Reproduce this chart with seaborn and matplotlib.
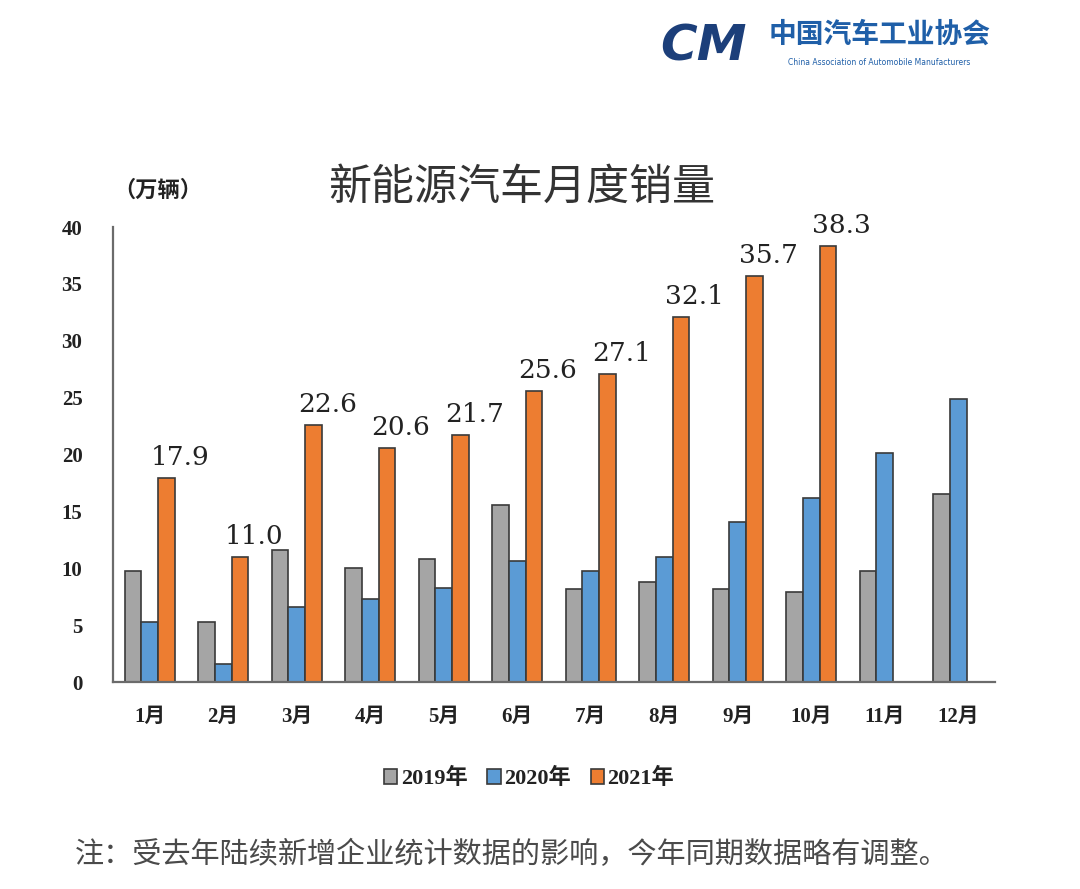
import matplotlib
matplotlib.use("Agg")
import matplotlib.pyplot as plt
import seaborn as sns
import pandas as pd
import numpy as np

# 数据（万辆）
months = ['1月', '2月', '3月', '4月', '5月', '6月', '7月', '8月', '9月', '10月', '11月', '12月']
sales_2019 = [9.8, 5.3, 11.6, 10.0, 10.8, 15.6, 8.2, 8.8, 8.2, 7.9, 9.8, 16.5]
sales_2020 = [5.3, 1.6, 6.6, 7.3, 8.3, 10.6, 9.8, 11.0, 14.1, 16.2, 20.1, 24.9]
sales_2021 = [17.9, 11.0, 22.6, 20.6, 21.7, 25.6, 27.1, 32.1, 35.7, 38.3, np.nan, np.nan]
years = ['2019年', '2020年', '2021年']
y_ticks = [0, 5, 10, 15, 20, 25, 30, 35, 40]
colors = ['#A5A5A5', '#5B9BD5', '#ED7D31']

df = pd.DataFrame({
    '月份': months * 3,
    '年份': [years[0]] * 12 + [years[1]] * 12 + [years[2]] * 12,
    '销量': sales_2019 + sales_2020 + sales_2021,
})

sns.set_style('white')
plt.rcParams['font.family'] = ['Noto Sans CJK SC', 'DejaVu Sans']

fig = plt.figure(figsize=(10.8, 8.89), dpi=100)
ax = fig.add_axes([0.1046, 0.2328, 0.8167, 0.5118])

sns.barplot(
    data=df, x='月份', y='销量', hue='年份',
    order=months, hue_order=years,
    palette=colors, saturation=1,
    width=0.68, errorbar=None,
    edgecolor='#3a3a3a', linewidth=1.2,
    ax=ax,
)

ax.set_xlim(-0.5, 11.5)
ax.set_ylim(0, 40)
ax.set_yticks(y_ticks)
ax.set_xlabel('')
ax.set_ylabel('')

for s in ['top', 'right']:
    ax.spines[s].set_visible(False)
for s in ['left', 'bottom']:
    ax.spines[s].set_color('#6b6b6b')
    ax.spines[s].set_linewidth(1.6)

ax.tick_params(axis='y', length=0, pad=22)
ax.tick_params(axis='x', length=0, pad=18)
for lab in ax.get_yticklabels():
    lab.set_fontfamily(['Liberation Serif', 'Noto Sans CJK SC'])
    lab.set_fontweight('bold')
    lab.set_fontsize(15)
    lab.set_color('#222222')
for lab in ax.get_xticklabels():
    lab.set_fontfamily(['Liberation Serif', 'Noto Sans CJK SC'])
    lab.set_fontweight('bold')
    lab.set_fontsize(15)
    lab.set_color('#222222')

# 2021 数据标签
for bar, v in zip(ax.containers[2], sales_2021):
    if np.isnan(v):
        continue
    ax.annotate(f'{v:.1f}', (bar.get_x() + bar.get_width() / 2, v),
                xytext=(14, 8), textcoords='offset pixels',
                ha='center', va='bottom', fontsize=19,
                family=['DejaVu Serif'], color='#222222')

# 图例
ax.legend_.remove()
handles = [plt.Rectangle((0, 0), 1, 1, facecolor=c, edgecolor='#3a3a3a', linewidth=1.2)
           for c in colors]
leg = fig.legend(handles, years, loc='center', bbox_to_anchor=(0.49, 0.124),
                 ncol=3, frameon=False, handlelength=0.6, handleheight=0.6,
                 handletextpad=0.15, columnspacing=0.9,
                 prop={'family': ['Liberation Serif', 'Noto Sans CJK SC'],
                       'weight': 'bold', 'size': 16})
for t in leg.get_texts():
    t.set_color('#222222')

# 标题与单位
fig.text(0.483, 0.789, '新能源汽车月度销量', ha='center', va='center',
         fontsize=31, color='#333333')
fig.text(0.146, 0.786, '（万辆）', ha='center', va='center',
         fontsize=16, fontweight='bold', color='#222222')

# 注释
fig.text(0.069, 0.038, '注：受去年陆续新增企业统计数据的影响，今年同期数据略有调整。',
         ha='left', va='center', fontsize=21, color='#4a4a4a')

# 协会标志
fig.text(0.651, 0.948, 'CM', ha='center', va='center', fontsize=36,
         fontweight='bold', fontstyle='italic', family=['DejaVu Sans'], color='#1C3F7A')
fig.text(0.814, 0.961, '中国汽车工业协会', ha='center', va='center',
         fontsize=20, fontweight='bold', color='#1F5FA8')
fig.text(0.814, 0.930, 'China Association of Automobile Manufacturers',
         ha='center', va='center', fontsize=5.5, family=['DejaVu Sans'], color='#1F5FA8')

fig.savefig('out.png', dpi=100)
plt.close(fig)
